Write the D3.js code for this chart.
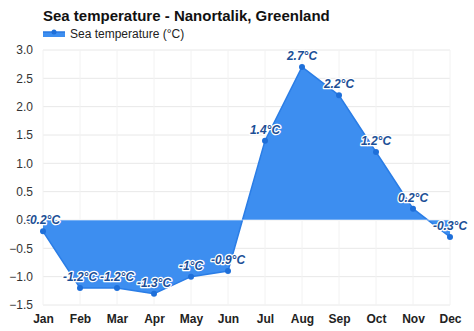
<!DOCTYPE html>
<html>
<head>
<meta charset="utf-8">
<script src="https://cdn.jsdelivr.net/npm/d3@7"></script>
<style>
  html, body { margin: 0; padding: 0; background: #fff; }
  svg { display: block; font-family: "Liberation Sans", Arial, sans-serif; }
</style>
</head>
<body>
<svg id="chart" width="474" height="331"></svg>
<script>
// Monthly sea temperature, Nanortalik
const months = ["Jan", "Feb", "Mar", "Apr", "May", "Jun", "Jul", "Aug", "Sep", "Oct", "Nov", "Dec"];
const seaTemp = [-0.2, -1.2, -1.2, -1.3, -1, -0.9, 1.4, 2.7, 2.2, 1.2, 0.2, -0.3];
const yTicks = [-1.5, -1.0, -0.5, 0.0, 0.5, 1.0, 1.5, 2.0, 2.5, 3.0];

const svg = d3.select("#chart");
const plotLeft = 43, plotRight = 450, plotTop = 50, plotBottom = 305;

const x = d3.scalePoint().domain(months).range([plotLeft, plotRight]);
const y = d3.scaleLinear().domain([-1.5, 3.0]).range([plotBottom, plotTop]);

// Title
svg.append("text")
  .attr("x", 43).attr("y", 21)
  .attr("font-size", 15).attr("font-weight", "bold").attr("fill", "#111")
  .text("Sea temperature - Nanortalik, Greenland");

// Legend
const lg = svg.append("g");
lg.append("rect").attr("x", 43).attr("y", 32).attr("width", 22).attr("height", 5).attr("fill", "#3d8ef0");
lg.append("line").attr("x1", 43).attr("x2", 65).attr("y1", 32).attr("y2", 32).attr("stroke", "#2a78e0").attr("stroke-width", 1.5);
lg.append("circle").attr("cx", 54).attr("cy", 32).attr("r", 2.5).attr("fill", "#1e6fd9");
lg.append("text").attr("x", 70).attr("y", 38).attr("font-size", 12).attr("fill", "#222")
  .text("Sea temperature (°C)");

// Horizontal gridlines
svg.append("g").selectAll("line").data(yTicks).join("line")
  .attr("x1", plotLeft).attr("x2", plotRight)
  .attr("y1", d => y(d)).attr("y2", d => y(d))
  .attr("stroke", "#e8e8e8").attr("stroke-width", 1);

// Vertical gridlines
svg.append("g").selectAll("line").data(months).join("line")
  .attr("x1", d => x(d)).attr("x2", d => x(d))
  .attr("y1", plotTop).attr("y2", plotBottom)
  .attr("stroke", "#f2f2f2").attr("stroke-width", 1);

// Y axis
const yAxis = svg.append("g")
  .attr("transform", `translate(${plotLeft - 10},0)`)
  .call(d3.axisLeft(y).tickValues(yTicks).tickFormat(d3.format(".1f")).tickSize(0).tickPadding(0));
yAxis.select(".domain").remove();
yAxis.selectAll("text").attr("font-size", 12).attr("fill", "#333")
  .attr("font-family", "Liberation Sans, Arial, sans-serif");

// X axis
const xAxis = svg.append("g")
  .attr("transform", `translate(0,${plotBottom + 9})`)
  .call(d3.axisBottom(x).tickSize(0).tickPadding(0));
xAxis.select(".domain").remove();
xAxis.selectAll("text").attr("font-size", 12).attr("font-weight", "bold").attr("fill", "#222")
  .attr("font-family", "Liberation Sans, Arial, sans-serif");

// Area to zero baseline
const data = months.map((m, i) => ({ m, v: seaTemp[i] }));
svg.append("path").datum(data)
  .attr("d", d3.area().x(d => x(d.m)).y0(y(0)).y1(d => y(d.v)))
  .attr("fill", "#3d8ef0");

svg.append("path").datum(data)
  .attr("d", d3.line().x(d => x(d.m)).y(d => y(d.v)))
  .attr("fill", "none").attr("stroke", "#2a7de6").attr("stroke-width", 1.5);

// Zero line
svg.append("line").attr("x1", plotLeft).attr("x2", plotRight)
  .attr("y1", y(0)).attr("y2", y(0)).attr("stroke", "#ffffff").attr("stroke-width", 1).attr("opacity", 0.6);

// Points
svg.append("g").selectAll("circle").data(data).join("circle")
  .attr("cx", d => x(d.m)).attr("cy", d => y(d.v)).attr("r", 3)
  .attr("fill", "#1e6fd9");

// Value labels
svg.append("g").selectAll("text").data(data).join("text")
  .attr("x", d => x(d.m)).attr("y", d => y(d.v) - 7)
  .attr("text-anchor", "middle")
  .attr("font-size", 12).attr("font-weight", "bold").attr("font-style", "italic")
  .attr("fill", "#1c4f96")
  .attr("stroke", "#ffffff").attr("stroke-width", 2.5).attr("paint-order", "stroke")
  .attr("stroke-linejoin", "round")
  .text(d => `${d.v}°C`);
</script>
</body>
</html>
